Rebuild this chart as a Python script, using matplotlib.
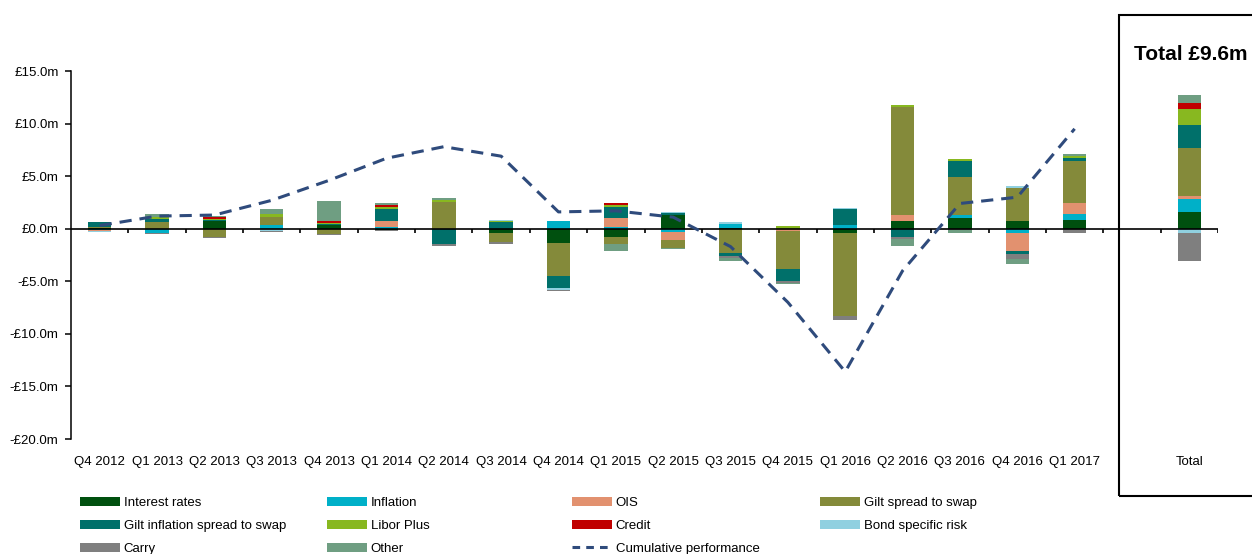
import numpy as np
import matplotlib.pyplot as plt
from matplotlib import font_manager
from matplotlib.lines import Line2D
from matplotlib.patches import Patch, Rectangle

# quarterly attribution, £m
quarters = ["Q4 2012", "Q1 2013", "Q2 2013", "Q3 2013", "Q4 2013", "Q1 2014",
            "Q2 2014", "Q3 2014", "Q4 2014", "Q1 2015", "Q2 2015", "Q3 2015",
            "Q4 2015", "Q1 2016", "Q2 2016", "Q3 2016", "Q4 2016", "Q1 2017"]

interest_rates = [0.05, 0.0, 0.7, 0.0, 0.35, -0.15, 0.0, -0.4, -1.4, -0.8, 1.3, 0.1, 0.0, -0.45, 0.75, 1.05, 0.7, 0.85]
inflation = [-0.15, -0.45, 0.0, 0.4, 0.0, 0.2, 0.0, 0.0, 0.7, 0.2, -0.35, 0.35, 0.0, 0.4, 0.0, 0.3, -0.4, 0.55]
ois = [-0.05, 0.0, 0.0, 0.0, 0.0, 0.5, 0.0, 0.0, 0.0, 0.85, -0.7, 0.0, -0.2, 0.0, 0.6, 0.0, -1.75, 1.0]
gilt_spread = [0.1, 0.6, -0.8, 0.7, -0.5, 0.0, 2.5, -0.9, -3.1, -0.65, -0.75, -2.3, -3.6, -7.85, 10.25, 3.6, 3.2, 4.05]
gilt_infl_spread = [0.45, 0.35, 0.15, 0.0, 0.1, 1.2, -1.5, 0.6, -1.15, 1.05, 0.15, -0.3, -1.2, 1.45, -0.75, 1.5, -0.3, 0.3]
libor_plus = [0.0, 0.15, 0.1, 0.3, 0.1, 0.2, 0.2, 0.12, 0.0, 0.15, 0.0, 0.0, 0.25, 0.0, 0.15, 0.2, 0.0, 0.2]
credit = [0.0, 0.0, 0.15, 0.0, 0.2, 0.2, 0.0, 0.0, 0.0, 0.15, 0.0, 0.0, 0.0, 0.0, 0.0, 0.0, 0.0, 0.0]
bond_specific = [-0.1, 0.0, 0.0, -0.2, 0.0, 0.0, 0.0, 0.12, -0.15, 0.0, 0.1, 0.15, 0.0, 0.15, 0.0, 0.0, 0.15, 0.0]
carry = [-0.05, -0.1, -0.1, -0.15, -0.1, -0.1, -0.1, -0.15, -0.15, 0.0, 0.0, -0.2, -0.2, -0.35, -0.2, -0.1, -0.45, -0.4]
other = [0.05, 0.3, 0.1, 0.5, 1.85, 0.15, 0.25, 0.0, 0.0, -0.7, -0.1, -0.3, -0.1, 0.0, -0.7, -0.35, -0.5, 0.15]

# total column
total_values = [1.6, 1.2, 0.3, 4.6, 2.2, 1.5, 0.55, -0.4, -2.7, 0.8]
total_title = "Total £9.6m"

cumulative = [0.3, 1.2, 1.3, 2.7, 4.6, 6.7, 7.8, 6.9, 1.6, 1.7, 1.1, -1.7, -7.0, -13.6, -4.0, 2.4, 3.0, 9.5]

series = [
    ("Interest rates", "#00500f", interest_rates),
    ("Inflation", "#00b0c8", inflation),
    ("OIS", "#e2916f", ois),
    ("Gilt spread to swap", "#848a3a", gilt_spread),
    ("Gilt inflation spread to swap", "#00706a", gilt_infl_spread),
    ("Libor Plus", "#88b820", libor_plus),
    ("Credit", "#c00000", credit),
    ("Bond specific risk", "#90d0e0", bond_specific),
    ("Carry", "#7f7f7f", carry),
    ("Other", "#6f9e82", other),
]
line_color = "#2f4b7c"

names = {f.name for f in font_manager.fontManager.ttflist}
if "Liberation Sans Narrow" in names:
    plt.rcParams["font.family"] = ["Liberation Sans Narrow", "DejaVu Sans"]
    fs = 11
else:
    plt.rcParams["font.family"] = ["Liberation Sans", "DejaVu Sans"]
    fs = 9.5

W, H = 1252, 554
fig = plt.figure(figsize=(W / 100, H / 100), dpi=100)
ax = fig.add_axes([71 / W, 1 - 439 / H, (1218 - 71) / W, (439 - 71) / H])

xpos = np.array(list(range(len(quarters))) + [len(quarters) + 1])
pos_bottom = np.zeros(len(xpos))
neg_bottom = np.zeros(len(xpos))
width = 0.41
for i, (label, color, vals) in enumerate(series):
    v = np.array(vals + [total_values[i]])
    p = np.where(v > 0, v, 0)
    n = np.where(v < 0, v, 0)
    ax.bar(xpos, p, width, bottom=pos_bottom, color=color, zorder=2)
    ax.bar(xpos, n, width, bottom=neg_bottom, color=color, zorder=2)
    pos_bottom += p
    neg_bottom += n

ax.plot(np.arange(len(quarters)), cumulative, color=line_color, lw=2.2,
        ls=(0, (4, 2.6)), zorder=4)

# zero line with category ticks
ax.axhline(0, color="black", lw=1.2, zorder=3)
ax.vlines(np.arange(0.5, len(xpos) + 1, 1), -0.45, 0, color="black", lw=1.2, zorder=3)

ax.set_xlim(-0.5, len(quarters) + 1.5)
ax.set_ylim(-20, 15)
ax.set_xticks(xpos)
ax.set_xticklabels(quarters + ["Total"], fontsize=fs)
ax.tick_params(axis="x", length=0, pad=12)
yt = np.arange(-20, 16, 5)
ax.set_yticks(yt)
ax.set_yticklabels([f"£{v:.1f}m" if v >= 0 else f"-£{abs(v):.1f}m" for v in yt], fontsize=fs)
ax.tick_params(axis="y", direction="out", length=4, width=1.1, pad=5)
for s in ["top", "right", "bottom"]:
    ax.spines[s].set_visible(False)
ax.spines["left"].set_linewidth(1.1)

# total panel box
fig.add_artist(Rectangle((1119 / W, 1 - 496 / H), 0.2, (496 - 15) / H,
                         transform=fig.transFigure, fill=False, ec="black", lw=1.5))
fig.text(1191 / W, 1 - 55 / H, total_title, ha="center", va="center",
         fontsize=15, fontweight="bold", family=["Liberation Sans", "DejaVu Sans"])

# legend, laid out in four columns like the source
handles = [Patch(facecolor=c, label=l) for l, c, _ in series]
handles.append(Line2D([], [], color=line_color, lw=2.2, ls=(0, (2.5, 2)),
                      label="Cumulative performance"))
columns = [[0, 4, 8], [1, 5, 9], [2, 6, 10], [3, 7]]
col_x = [80, 327, 572, 820]
for cx, idx in zip(col_x, columns):
    fig.legend(handles=[handles[k] for k in idx], loc="upper left",
               bbox_to_anchor=(cx / W, 1 - 497 / H), bbox_transform=fig.transFigure,
               frameon=False, borderpad=0, borderaxespad=0, fontsize=fs,
               handlelength=3.0, handletextpad=0.3, labelspacing=0.8)

fig.savefig("out.png", dpi=100)
